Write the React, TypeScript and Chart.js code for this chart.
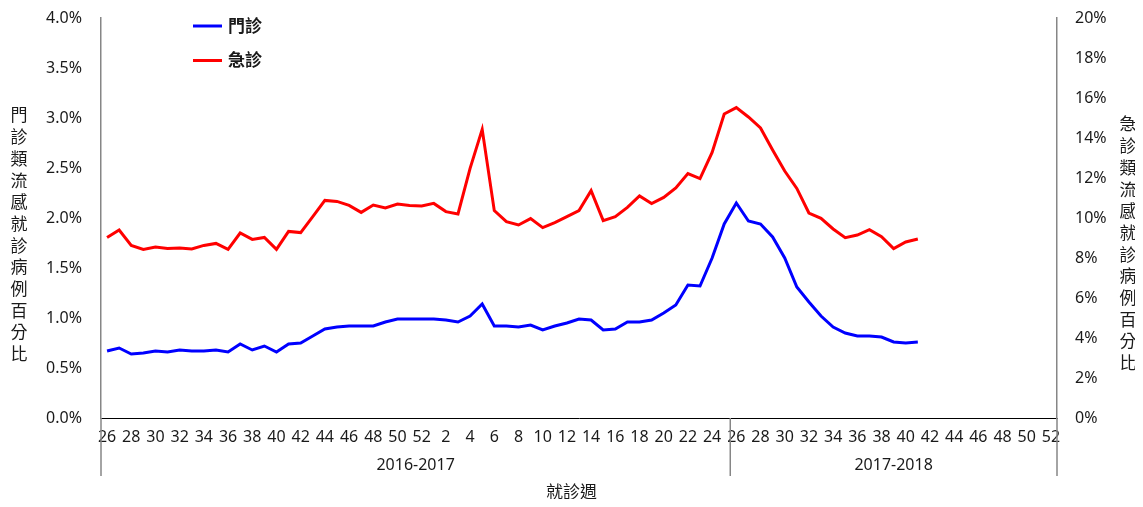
import React, { useEffect, useRef } from 'react';
import { Chart, registerables } from 'chart.js';

Chart.register(...registerables);

// ---- data ----
const weekLabels: string[] = [
  '26', '27', '28', '29', '30', '31', '32', '33', '34', '35', '36', '37', '38', '39', '40', '41', '42', '43', '44', '45', '46', '47', '48', '49', '50', '51', '52',
  '1', '2', '3', '4', '5', '6', '7', '8', '9', '10', '11', '12', '13', '14', '15', '16', '17', '18', '19', '20', '21', '22', '23', '24', '25',
  '26', '27', '28', '29', '30', '31', '32', '33', '34', '35', '36', '37', '38', '39', '40', '41', '42', '43', '44', '45', '46', '47', '48', '49', '50', '51', '52',
];
const seasonLabels: string[] = ['2016-2017', '2017-2018'];
const seasonSizes: number[] = [52, 27];

const outpatient: number[] = [
  0.67, 0.70, 0.64, 0.65, 0.67, 0.66, 0.68, 0.67, 0.67, 0.68,
  0.66, 0.74, 0.68, 0.72, 0.66, 0.74, 0.75, 0.82, 0.89, 0.91,
  0.92, 0.92, 0.92, 0.96, 0.99, 0.99, 0.99, 0.99, 0.98, 0.96,
  1.02, 1.14, 0.92, 0.92, 0.91, 0.93, 0.88, 0.92, 0.95, 0.99,
  0.98, 0.88, 0.89, 0.96, 0.96, 0.98, 1.05, 1.13, 1.33, 1.32,
  1.60, 1.94, 2.15, 1.97, 1.94, 1.81, 1.60, 1.31, 1.16, 1.02,
  0.91, 0.85, 0.82, 0.82, 0.81, 0.76, 0.75, 0.76,
];
const emergency: number[] = [
  9.02, 9.40, 8.63, 8.43, 8.55, 8.48, 8.50, 8.45, 8.63, 8.73,
  8.43, 9.25, 8.93, 9.03, 8.43, 9.33, 9.27, 10.07, 10.88, 10.83,
  10.63, 10.28, 10.65, 10.50, 10.70, 10.62, 10.60, 10.73, 10.32, 10.20,
  12.48, 14.43, 10.37, 9.82, 9.65, 9.97, 9.52, 9.77, 10.07, 10.37,
  11.37, 9.87, 10.07, 10.53, 11.10, 10.72, 11.03, 11.50, 12.22, 11.97,
  13.28, 15.20, 15.52, 15.05, 14.50, 13.40, 12.35, 11.48, 10.25, 9.98,
  9.45, 9.02, 9.15, 9.42, 9.07, 8.47, 8.80, 8.95,
];
const seriesNames: string[] = ['門診', '急診'];
const seriesColors: string[] = ['#0000FF', '#FF0000'];
const leftTitle = '門診類流感就診病例百分比';
const rightTitle = '急診類流感就診病例百分比';
const xTitle = '就診週';

const FONT = '"Noto Sans", "Noto Sans CJK TC", sans-serif';
const TEXT = '#1a1a1a';
const AXIS_GRAY = '#868686';

const decorPlugin = {
  id: 'decor',
  afterDraw(chart: any) {
    const { ctx, chartArea, scales } = chart;
    const x = scales.x;
    const half = (x.getPixelForValue(1) - x.getPixelForValue(0)) / 2;
    ctx.save();

    // season separators and labels
    const bounds: number[] = [chartArea.left];
    let acc = 0;
    seasonSizes.forEach((n) => {
      acc += n;
      bounds.push(x.getPixelForValue(acc - 1) + half);
    });
    ctx.strokeStyle = AXIS_GRAY;
    ctx.lineWidth = 1.5;
    bounds.forEach((bx) => {
      ctx.beginPath();
      ctx.moveTo(bx, chartArea.bottom);
      ctx.lineTo(bx, chartArea.bottom + 58);
      ctx.stroke();
    });
    ctx.fillStyle = TEXT;
    ctx.font = `16px ${FONT}`;
    ctx.textAlign = 'center';
    ctx.textBaseline = 'middle';
    seasonLabels.forEach((lab, i) => {
      ctx.fillText(lab, (bounds[i] + bounds[i + 1]) / 2, chartArea.bottom + 47);
    });

    // x title
    ctx.font = `17px ${FONT}`;
    ctx.fillText(xTitle, chart.width / 2, chartArea.bottom + 75);

    // vertical titles (stacked characters)
    const step = 21.7;
    const mid = (chartArea.top + chartArea.bottom) / 2;
    const drawStack = (text: string, cx: number, cy: number) => {
      const chars = Array.from(text);
      const y0 = cy - (step * (chars.length - 1)) / 2;
      chars.forEach((c, i) => ctx.fillText(c, cx, y0 + i * step));
    };
    drawStack(leftTitle, 11, mid + 18);
    drawStack(rightTitle, 1120, mid + 27);

    // legend
    const legendX = chartArea.left + 92;
    const legendY = [chartArea.top + 8, chartArea.top + 42.5];
    ctx.textAlign = 'left';
    ctx.font = `bold 17px ${FONT}`;
    seriesNames.forEach((name, i) => {
      ctx.strokeStyle = seriesColors[i];
      ctx.lineWidth = 3;
      ctx.beginPath();
      ctx.moveTo(legendX, legendY[i]);
      ctx.lineTo(legendX + 29, legendY[i]);
      ctx.stroke();
      ctx.fillStyle = TEXT;
      ctx.fillText(name, legendX + 35, legendY[i] + 1);
    });
    ctx.restore();
  },
};

const fitY = (w: number) => (s: any) => {
  s.width = w;
  s.paddingTop = 0;
  s.paddingBottom = 0;
};

export default function App() {
  const ref = useRef<HTMLCanvasElement>(null);
  useEffect(() => {
    if (!ref.current) return;
    Chart.defaults.font.family = FONT;
    Chart.defaults.color = TEXT;
    const chart = new Chart(ref.current, {
      type: 'line',
      data: {
        labels: weekLabels,
        datasets: [
          {
            label: seriesNames[0],
            data: outpatient,
            borderColor: seriesColors[0],
            backgroundColor: seriesColors[0],
            borderWidth: 3,
            pointRadius: 0,
            tension: 0,
            yAxisID: 'yL',
          },
          {
            label: seriesNames[1],
            data: emergency,
            borderColor: seriesColors[1],
            backgroundColor: seriesColors[1],
            borderWidth: 3,
            pointRadius: 0,
            tension: 0,
            yAxisID: 'yR',
          },
        ],
      },
      options: {
        animation: false,
        responsive: true,
        maintainAspectRatio: false,
        layout: { padding: { top: 10, left: 0, right: 0, bottom: 0 } },
        plugins: { legend: { display: false }, tooltip: { enabled: false } },
        scales: {
          x: {
            type: 'category',
            offset: true,
            grid: { display: false, drawTicks: false },
            border: { display: true, color: '#000', width: 1 },
            ticks: {
              autoSkip: false,
              maxRotation: 0,
              minRotation: 0,
              padding: 10,
              font: { size: 16 },
              color: TEXT,
              callback: (_v: any, idx: number) => (idx % 2 === 0 ? weekLabels[idx] : ''),
            },
            afterFit: (s: any) => {
              s.height = 81;
              s.paddingLeft = 0;
              s.paddingRight = 0;
            },
          },
          yL: {
            type: 'linear',
            position: 'left',
            min: 0,
            max: 4,
            grid: { display: false, drawTicks: false },
            border: { display: true, color: AXIS_GRAY, width: 1.5 },
            ticks: {
              stepSize: 0.5,
              padding: 19,
              font: { size: 16 },
              color: TEXT,
              callback: (v: any) => Number(v).toFixed(1) + '%',
            },
            afterFit: fitY(93),
          },
          yR: {
            type: 'linear',
            position: 'right',
            min: 0,
            max: 20,
            grid: { display: false, drawTicks: false },
            border: { display: true, color: AXIS_GRAY, width: 1.5 },
            ticks: {
              stepSize: 2,
              padding: 18,
              font: { size: 16 },
              color: TEXT,
              callback: (v: any) => Number(v).toFixed(0) + '%',
            },
            afterFit: fitY(78),
          },
        },
      },
      plugins: [decorPlugin],
    });
    return () => chart.destroy();
  }, []);
  return (
    <div style={{ position: 'relative', width: '100%', height: 491 }}>
      <canvas ref={ref} />
    </div>
  );
}
